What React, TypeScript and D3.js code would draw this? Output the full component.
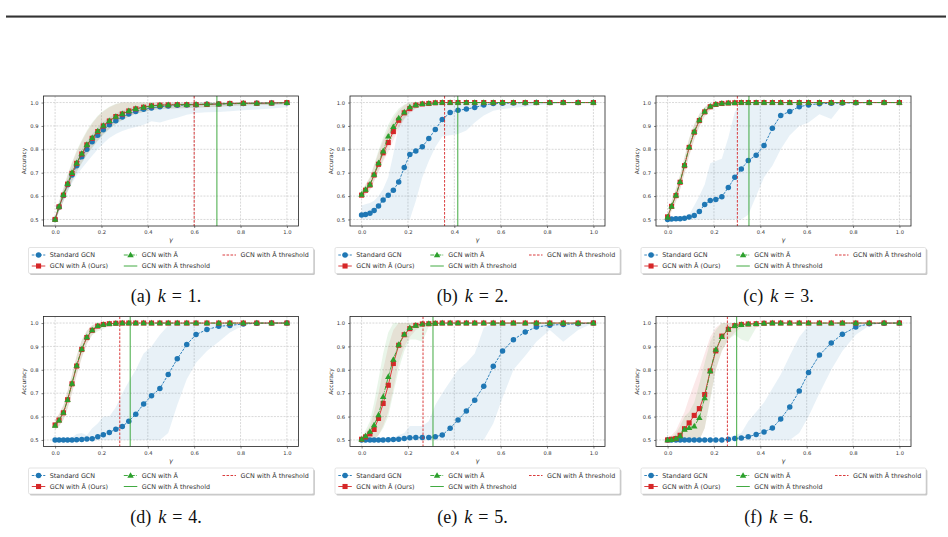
import React, { useEffect, useRef } from "react";
import * as d3 from "d3";

// gamma grid shared by every run
const gammas = [
  0, 0.017, 0.036, 0.054, 0.073, 0.093, 0.115, 0.137, 0.16, 0.184,
  0.208, 0.234, 0.262, 0.29, 0.318, 0.348, 0.382, 0.416, 0.452, 0.488,
  0.527, 0.568, 0.608, 0.655, 0.706, 0.754, 0.812, 0.87, 0.934, 1.0,
];
const xTicks = [0, 0.2, 0.4, 0.6, 0.8, 1.0];
const yTicks = [0.5, 0.6, 0.7, 0.8, 0.9, 1.0];
const tags = ["a", "b", "c", "d", "e", "f"];
const kValues = [1, 2, 3, 4, 5, 6];
const legendLabels = [
  "Standard GCN",
  "GCN with \u00C2 (Ours)",
  "GCN with \u00C3",
  "GCN with \u00C3 threshold",
  "GCN with \u00C2 threshold",
];

// k = 1
const k1Gcn = [
  0.5, 0.553, 0.602, 0.648, 0.69, 0.73, 0.768, 0.8, 0.832, 0.86,
  0.884, 0.905, 0.922, 0.938, 0.951, 0.962, 0.971, 0.977, 0.982, 0.985,
  0.988, 0.99, 0.991, 0.993, 0.994, 0.995, 0.996, 0.997, 0.998, 0.999,
];
const k1GcnLo = [
  0.49, 0.535, 0.578, 0.618, 0.655, 0.688, 0.718, 0.745, 0.772, 0.8,
  0.825, 0.848, 0.865, 0.878, 0.888, 0.895, 0.905, 0.92, 0.915, 0.925,
  0.935, 0.948, 0.955, 0.958, 0.96, 0.963, 0.967, 0.97, 0.975, 0.98,
];
const k1GcnHi = [
  0.51, 0.57, 0.625, 0.675, 0.72, 0.762, 0.8, 0.835, 0.866, 0.893,
  0.917, 0.937, 0.953, 0.966, 0.976, 0.983, 0.988, 0.992, 0.995, 0.997,
  0.998, 0.999, 1.0, 1.0, 1.0, 1.0, 1.0, 1.0, 1.0, 1.0,
];
const k1Ours = [
  0.5, 0.554, 0.604, 0.651, 0.697, 0.74, 0.78, 0.819, 0.847, 0.876,
  0.9, 0.921, 0.94, 0.951, 0.964, 0.973, 0.98, 0.986, 0.989, 0.99,
  0.991, 0.991, 0.991, 0.992, 0.994, 0.996, 0.997, 0.997, 0.998, 1.0,
];
const k1OursLo = [
  0.49, 0.535, 0.58, 0.622, 0.665, 0.705, 0.742, 0.778, 0.808, 0.838,
  0.865, 0.888, 0.91, 0.925, 0.94, 0.952, 0.96, 0.968, 0.972, 0.975,
  0.976, 0.977, 0.978, 0.98, 0.982, 0.985, 0.988, 0.99, 0.99, 0.993,
];
const k1OursHi = [
  0.51, 0.575, 0.632, 0.688, 0.74, 0.79, 0.835, 0.875, 0.91, 0.94,
  0.962, 0.98, 0.993, 1.0, 1.0, 1.0, 1.0, 1.0, 1.0, 1.0,
  1.0, 1.0, 1.0, 1.0, 1.0, 1.0, 1.0, 1.0, 1.0, 1.0,
];
const k1Tilde = [
  0.5, 0.555, 0.606, 0.653, 0.7, 0.742, 0.782, 0.82, 0.849, 0.878,
  0.902, 0.922, 0.94, 0.952, 0.965, 0.974, 0.98, 0.986, 0.989, 0.99,
  0.991, 0.991, 0.992, 0.993, 0.994, 0.996, 0.997, 0.997, 0.998, 0.999,
];
const k1TildeLo = [
  0.49, 0.533, 0.577, 0.62, 0.662, 0.702, 0.74, 0.776, 0.806, 0.836,
  0.862, 0.886, 0.908, 0.924, 0.94, 0.951, 0.96, 0.967, 0.971, 0.974,
  0.975, 0.976, 0.978, 0.98, 0.982, 0.985, 0.987, 0.989, 0.99, 0.992,
];
const k1TildeHi = [
  0.51, 0.578, 0.636, 0.692, 0.745, 0.795, 0.84, 0.88, 0.915, 0.944,
  0.965, 0.982, 0.995, 1.0, 1.0, 1.0, 1.0, 1.0, 1.0, 1.0,
  1.0, 1.0, 1.0, 1.0, 1.0, 1.0, 1.0, 1.0, 1.0, 1.0,
];
const k1HatCut = 0.6;
const k1TildeCut = 0.698;

// k = 2
const k2Gcn = [
  0.519, 0.521, 0.527, 0.538, 0.558, 0.583, 0.603, 0.625, 0.66, 0.722,
  0.778, 0.793, 0.811, 0.846, 0.885, 0.927, 0.957, 0.967, 0.972, 0.979,
  0.989, 0.996, 0.997, 0.998, 0.999, 1.0, 1.0, 1.0, 1.0, 1.0,
];
const k2GcnLo = [
  0.5, 0.5, 0.5, 0.5, 0.5, 0.5, 0.5, 0.5, 0.5, 0.5,
  0.5, 0.58, 0.68, 0.75, 0.81, 0.855, 0.86, 0.865, 0.88, 0.915,
  0.945, 0.965, 0.972, 0.978, 0.982, 0.988, 0.993, 0.997, 1.0, 1.0,
];
const k2GcnHi = [
  0.56, 0.565, 0.57, 0.58, 0.6, 0.63, 0.68, 0.78, 0.9, 0.96,
  0.99, 1.0, 1.0, 1.0, 1.0, 1.0, 1.0, 1.0, 1.0, 1.0,
  1.0, 1.0, 1.0, 1.0, 1.0, 1.0, 1.0, 1.0, 1.0, 1.0,
];
const k2Ours = [
  0.604, 0.625, 0.647, 0.69, 0.736, 0.785, 0.829, 0.876, 0.924, 0.956,
  0.974, 0.989, 0.994, 0.996, 0.999, 1.0, 1.0, 1.0, 1.0, 1.0,
  1.0, 1.0, 1.0, 1.0, 1.0, 1.0, 1.0, 1.0, 1.0, 1.0,
];
const k2OursLo = [
  0.59, 0.607, 0.625, 0.662, 0.702, 0.748, 0.79, 0.838, 0.888, 0.928,
  0.955, 0.975, 0.985, 0.99, 0.995, 0.998, 0.999, 1.0, 1.0, 1.0,
  1.0, 1.0, 1.0, 1.0, 1.0, 1.0, 1.0, 1.0, 1.0, 1.0,
];
const k2OursHi = [
  0.62, 0.648, 0.678, 0.73, 0.785, 0.838, 0.885, 0.93, 0.965, 0.988,
  1.0, 1.0, 1.0, 1.0, 1.0, 1.0, 1.0, 1.0, 1.0, 1.0,
  1.0, 1.0, 1.0, 1.0, 1.0, 1.0, 1.0, 1.0, 1.0, 1.0,
];
const k2Tilde = [
  0.607, 0.628, 0.65, 0.692, 0.742, 0.792, 0.856, 0.896, 0.934, 0.959,
  0.981, 0.99, 0.995, 0.997, 0.999, 1.0, 1.0, 1.0, 1.0, 1.0,
  1.0, 1.0, 1.0, 1.0, 1.0, 1.0, 1.0, 1.0, 1.0, 1.0,
];
const k2TildeLo = [
  0.592, 0.608, 0.626, 0.665, 0.708, 0.755, 0.815, 0.858, 0.898, 0.932,
  0.962, 0.975, 0.985, 0.99, 0.995, 0.998, 0.999, 1.0, 1.0, 1.0,
  1.0, 1.0, 1.0, 1.0, 1.0, 1.0, 1.0, 1.0, 1.0, 1.0,
];
const k2TildeHi = [
  0.622, 0.65, 0.682, 0.735, 0.795, 0.85, 0.905, 0.945, 0.975, 0.992,
  1.0, 1.0, 1.0, 1.0, 1.0, 1.0, 1.0, 1.0, 1.0, 1.0,
  1.0, 1.0, 1.0, 1.0, 1.0, 1.0, 1.0, 1.0, 1.0, 1.0,
];
const k2HatCut = 0.358;
const k2TildeCut = 0.415;

// k = 3
const k3Gcn = [
  0.5, 0.502, 0.503, 0.503, 0.505, 0.51, 0.517, 0.534, 0.564, 0.581,
  0.585, 0.597, 0.637, 0.68, 0.716, 0.752, 0.775, 0.816, 0.89, 0.945,
  0.962, 0.982, 0.99, 0.995, 0.997, 0.998, 0.999, 1.0, 1.0, 1.0,
];
const k3GcnLo = [
  0.5, 0.5, 0.5, 0.5, 0.5, 0.5, 0.5, 0.5, 0.5, 0.5,
  0.5, 0.5, 0.5, 0.5, 0.5, 0.52, 0.6, 0.68, 0.73, 0.8,
  0.86, 0.9, 0.915, 0.95, 0.93, 0.99, 1.0, 1.0, 1.0, 1.0,
];
const k3GcnHi = [
  0.502, 0.504, 0.505, 0.506, 0.51, 0.52, 0.56, 0.6, 0.65, 0.74,
  0.75, 0.76, 0.85, 0.96, 1.0, 1.0, 1.0, 1.0, 1.0, 1.0,
  1.0, 1.0, 1.0, 1.0, 1.0, 1.0, 1.0, 1.0, 1.0, 1.0,
];
const k3Ours = [
  0.511, 0.556, 0.602, 0.659, 0.73, 0.808, 0.873, 0.923, 0.96, 0.982,
  0.992, 0.996, 0.998, 0.999, 1.0, 1.0, 1.0, 1.0, 1.0, 1.0,
  1.0, 1.0, 1.0, 1.0, 1.0, 1.0, 1.0, 1.0, 1.0, 1.0,
];
const k3OursLo = [
  0.5, 0.535, 0.575, 0.628, 0.695, 0.77, 0.84, 0.895, 0.94, 0.968,
  0.982, 0.99, 0.994, 0.997, 0.999, 1.0, 1.0, 1.0, 1.0, 1.0,
  1.0, 1.0, 1.0, 1.0, 1.0, 1.0, 1.0, 1.0, 1.0, 1.0,
];
const k3OursHi = [
  0.525, 0.578, 0.63, 0.69, 0.765, 0.845, 0.905, 0.95, 0.98, 0.995,
  1.0, 1.0, 1.0, 1.0, 1.0, 1.0, 1.0, 1.0, 1.0, 1.0,
  1.0, 1.0, 1.0, 1.0, 1.0, 1.0, 1.0, 1.0, 1.0, 1.0,
];
const k3Tilde = [
  0.51, 0.557, 0.604, 0.661, 0.733, 0.81, 0.876, 0.925, 0.962, 0.984,
  0.993, 0.997, 0.998, 0.999, 1.0, 1.0, 1.0, 1.0, 1.0, 1.0,
  1.0, 1.0, 1.0, 1.0, 1.0, 1.0, 1.0, 1.0, 1.0, 1.0,
];
const k3TildeLo = [
  0.5, 0.537, 0.578, 0.63, 0.698, 0.773, 0.843, 0.898, 0.942, 0.97,
  0.984, 0.991, 0.995, 0.997, 0.999, 1.0, 1.0, 1.0, 1.0, 1.0,
  1.0, 1.0, 1.0, 1.0, 1.0, 1.0, 1.0, 1.0, 1.0, 1.0,
];
const k3TildeHi = [
  0.524, 0.58, 0.632, 0.693, 0.768, 0.848, 0.908, 0.952, 0.982, 0.996,
  1.0, 1.0, 1.0, 1.0, 1.0, 1.0, 1.0, 1.0, 1.0, 1.0,
  1.0, 1.0, 1.0, 1.0, 1.0, 1.0, 1.0, 1.0, 1.0, 1.0,
];
const k3HatCut = 0.301;
const k3TildeCut = 0.351;

// k = 4
const k4Gcn = [
  0.5, 0.5, 0.5, 0.5, 0.5, 0.501, 0.502, 0.504, 0.505, 0.514,
  0.522, 0.532, 0.546, 0.558, 0.58, 0.61, 0.654, 0.689, 0.72, 0.78,
  0.847, 0.908, 0.951, 0.972, 0.986, 0.99, 0.996, 0.999, 1.0, 1.0,
];
const k4GcnLo = [
  0.5, 0.5, 0.5, 0.5, 0.5, 0.5, 0.5, 0.5, 0.5, 0.5,
  0.5, 0.5, 0.5, 0.5, 0.5, 0.5, 0.5, 0.5, 0.5, 0.53,
  0.65, 0.76, 0.83, 0.88, 0.92, 0.96, 0.99, 1.0, 1.0, 1.0,
];
const k4GcnHi = [
  0.5, 0.5, 0.502, 0.505, 0.51, 0.525, 0.53, 0.52, 0.55, 0.57,
  0.6, 0.6, 0.64, 0.7, 0.75, 0.8, 0.87, 0.9, 0.95, 0.99,
  1.0, 1.0, 1.0, 1.0, 1.0, 1.0, 1.0, 1.0, 1.0, 1.0,
];
const k4Ours = [
  0.564, 0.585, 0.616, 0.672, 0.74, 0.816, 0.887, 0.938, 0.969, 0.987,
  0.994, 0.997, 0.999, 1.0, 1.0, 1.0, 1.0, 1.0, 1.0, 1.0,
  1.0, 1.0, 1.0, 1.0, 1.0, 1.0, 1.0, 1.0, 1.0, 1.0,
];
const k4OursLo = [
  0.545, 0.56, 0.585, 0.635, 0.7, 0.775, 0.85, 0.91, 0.95, 0.975,
  0.987, 0.993, 0.997, 0.999, 1.0, 1.0, 1.0, 1.0, 1.0, 1.0,
  1.0, 1.0, 1.0, 1.0, 1.0, 1.0, 1.0, 1.0, 1.0, 1.0,
];
const k4OursHi = [
  0.585, 0.612, 0.648, 0.71, 0.78, 0.858, 0.925, 0.966, 0.99, 1.0,
  1.0, 1.0, 1.0, 1.0, 1.0, 1.0, 1.0, 1.0, 1.0, 1.0,
  1.0, 1.0, 1.0, 1.0, 1.0, 1.0, 1.0, 1.0, 1.0, 1.0,
];
const k4Tilde = [
  0.562, 0.584, 0.617, 0.672, 0.742, 0.818, 0.889, 0.94, 0.97, 0.988,
  0.994, 0.997, 0.999, 1.0, 1.0, 1.0, 1.0, 1.0, 1.0, 1.0,
  1.0, 1.0, 1.0, 1.0, 1.0, 1.0, 1.0, 1.0, 1.0, 1.0,
];
const k4TildeLo = [
  0.543, 0.558, 0.586, 0.636, 0.702, 0.778, 0.852, 0.912, 0.948, 0.965,
  0.975, 0.99, 0.997, 0.999, 1.0, 1.0, 1.0, 1.0, 1.0, 1.0,
  1.0, 1.0, 1.0, 1.0, 1.0, 1.0, 1.0, 1.0, 1.0, 1.0,
];
const k4TildeHi = [
  0.583, 0.61, 0.648, 0.708, 0.782, 0.86, 0.927, 0.968, 0.992, 1.0,
  1.0, 1.0, 1.0, 1.0, 1.0, 1.0, 1.0, 1.0, 1.0, 1.0,
  1.0, 1.0, 1.0, 1.0, 1.0, 1.0, 1.0, 1.0, 1.0, 1.0,
];
const k4HatCut = 0.279;
const k4TildeCut = 0.324;

// k = 5
const k5Gcn = [
  0.5, 0.5, 0.5, 0.5, 0.5, 0.5, 0.501, 0.502, 0.503, 0.506,
  0.509, 0.51, 0.51, 0.51, 0.514, 0.521, 0.55, 0.585, 0.624, 0.67,
  0.73, 0.815, 0.88, 0.929, 0.962, 0.983, 0.991, 0.994, 0.997, 1.0,
];
const k5GcnLo = [
  0.5, 0.5, 0.5, 0.5, 0.5, 0.5, 0.5, 0.5, 0.5, 0.5,
  0.5, 0.5, 0.5, 0.5, 0.5, 0.5, 0.5, 0.5, 0.5, 0.5,
  0.5, 0.57, 0.68, 0.8, 0.86, 0.92, 0.97, 0.92, 0.97, 1.0,
];
const k5GcnHi = [
  0.5, 0.5, 0.5, 0.5, 0.5, 0.5, 0.505, 0.51, 0.52, 0.53,
  0.56, 0.56, 0.56, 0.58, 0.65, 0.7, 0.75, 0.8, 0.83, 0.87,
  0.98, 1.0, 1.0, 1.0, 1.0, 1.0, 1.0, 1.0, 1.0, 1.0,
];
const k5Ours = [
  0.503, 0.513, 0.526, 0.545, 0.592, 0.656, 0.734, 0.827, 0.905, 0.95,
  0.976, 0.99, 0.996, 0.997, 0.999, 1.0, 1.0, 1.0, 1.0, 1.0,
  1.0, 1.0, 1.0, 1.0, 1.0, 1.0, 1.0, 1.0, 1.0, 1.0,
];
const k5OursLo = [
  0.5, 0.5, 0.5, 0.5, 0.52, 0.56, 0.62, 0.72, 0.83, 0.9,
  0.94, 0.97, 0.985, 0.99, 0.995, 1.0, 1.0, 1.0, 1.0, 1.0,
  1.0, 1.0, 1.0, 1.0, 1.0, 1.0, 1.0, 1.0, 1.0, 1.0,
];
const k5OursHi = [
  0.51, 0.53, 0.56, 0.62, 0.7, 0.8, 0.9, 0.97, 1.0, 1.0,
  1.0, 1.0, 1.0, 1.0, 1.0, 1.0, 1.0, 1.0, 1.0, 1.0,
  1.0, 1.0, 1.0, 1.0, 1.0, 1.0, 1.0, 1.0, 1.0, 1.0,
];
const k5Tilde = [
  0.503, 0.517, 0.536, 0.564, 0.607, 0.685, 0.77, 0.844, 0.908, 0.952,
  0.98, 0.99, 0.996, 0.998, 0.999, 1.0, 1.0, 1.0, 1.0, 1.0,
  1.0, 1.0, 1.0, 1.0, 1.0, 1.0, 1.0, 1.0, 1.0, 1.0,
];
const k5TildeLo = [
  0.5, 0.5, 0.5, 0.5, 0.52, 0.55, 0.6, 0.7, 0.8, 0.88,
  0.93, 0.93, 0.92, 0.985, 0.995, 1.0, 1.0, 1.0, 1.0, 1.0,
  1.0, 1.0, 1.0, 1.0, 1.0, 1.0, 1.0, 1.0, 1.0, 1.0,
];
const k5TildeHi = [
  0.51, 0.54, 0.58, 0.66, 0.76, 0.87, 0.96, 1.0, 1.0, 1.0,
  1.0, 1.0, 1.0, 1.0, 1.0, 1.0, 1.0, 1.0, 1.0, 1.0,
  1.0, 1.0, 1.0, 1.0, 1.0, 1.0, 1.0, 1.0, 1.0, 1.0,
];
const k5HatCut = 0.265;
const k5TildeCut = 0.308;

// k = 6
const k6Gcn = [
  0.5, 0.5, 0.5, 0.5, 0.5, 0.5, 0.5, 0.5, 0.5, 0.5,
  0.5, 0.5, 0.503, 0.506, 0.508, 0.514, 0.523, 0.534, 0.551, 0.59,
  0.641, 0.709, 0.788, 0.863, 0.915, 0.952, 0.983, 0.997, 0.999, 1.0,
];
const k6GcnLo = [
  0.5, 0.5, 0.5, 0.5, 0.5, 0.5, 0.5, 0.5, 0.5, 0.5,
  0.5, 0.5, 0.5, 0.5, 0.5, 0.5, 0.5, 0.5, 0.5, 0.5,
  0.5, 0.53, 0.6, 0.7, 0.8, 0.88, 0.95, 0.99, 1.0, 1.0,
];
const k6GcnHi = [
  0.5, 0.5, 0.5, 0.5, 0.5, 0.5, 0.5, 0.5, 0.5, 0.5,
  0.5, 0.5, 0.51, 0.52, 0.53, 0.58, 0.62, 0.66, 0.72, 0.78,
  0.86, 0.94, 0.99, 1.0, 1.0, 1.0, 1.0, 1.0, 1.0, 1.0,
];
const k6Ours = [
  0.5, 0.503, 0.506, 0.52, 0.548, 0.573, 0.605, 0.634, 0.694, 0.795,
  0.881, 0.944, 0.973, 0.989, 0.994, 0.996, 0.997, 0.999, 1.0, 1.0,
  1.0, 1.0, 1.0, 1.0, 1.0, 1.0, 1.0, 1.0, 1.0, 1.0,
];
const k6OursLo = [
  0.5, 0.5, 0.5, 0.5, 0.5, 0.5, 0.5, 0.5, 0.55, 0.68,
  0.8, 0.88, 0.93, 0.96, 0.98, 0.99, 0.995, 0.998, 1.0, 1.0,
  1.0, 1.0, 1.0, 1.0, 1.0, 1.0, 1.0, 1.0, 1.0, 1.0,
];
const k6OursHi = [
  0.505, 0.52, 0.54, 0.58, 0.62, 0.68, 0.74, 0.8, 0.87, 0.94,
  0.98, 1.0, 1.0, 1.0, 1.0, 1.0, 1.0, 1.0, 1.0, 1.0,
  1.0, 1.0, 1.0, 1.0, 1.0, 1.0, 1.0, 1.0, 1.0, 1.0,
];
const k6Tilde = [
  0.5, 0.501, 0.506, 0.517, 0.545, 0.552, 0.559, 0.595, 0.68, 0.795,
  0.887, 0.941, 0.973, 0.989, 0.993, 0.996, 0.997, 0.999, 1.0, 1.0,
  1.0, 1.0, 1.0, 1.0, 1.0, 1.0, 1.0, 1.0, 1.0, 1.0,
];
const k6TildeLo = [
  0.5, 0.5, 0.5, 0.5, 0.5, 0.5, 0.5, 0.5, 0.55, 0.67,
  0.8, 0.88, 0.93, 0.95, 0.93, 0.92, 0.98, 0.995, 1.0, 1.0,
  1.0, 1.0, 1.0, 1.0, 1.0, 1.0, 1.0, 1.0, 1.0, 1.0,
];
const k6TildeHi = [
  0.5, 0.51, 0.53, 0.56, 0.6, 0.62, 0.66, 0.74, 0.83, 0.92,
  0.97, 1.0, 1.0, 1.0, 1.0, 1.0, 1.0, 1.0, 1.0, 1.0,
  1.0, 1.0, 1.0, 1.0, 1.0, 1.0, 1.0, 1.0, 1.0, 1.0,
];
const k6HatCut = 0.258;
const k6TildeCut = 0.298;

const runs = [
  { gcn: [k1Gcn, k1GcnLo, k1GcnHi], ours: [k1Ours, k1OursLo, k1OursHi], tilde: [k1Tilde, k1TildeLo, k1TildeHi], hatCut: k1HatCut, tildeCut: k1TildeCut },
  { gcn: [k2Gcn, k2GcnLo, k2GcnHi], ours: [k2Ours, k2OursLo, k2OursHi], tilde: [k2Tilde, k2TildeLo, k2TildeHi], hatCut: k2HatCut, tildeCut: k2TildeCut },
  { gcn: [k3Gcn, k3GcnLo, k3GcnHi], ours: [k3Ours, k3OursLo, k3OursHi], tilde: [k3Tilde, k3TildeLo, k3TildeHi], hatCut: k3HatCut, tildeCut: k3TildeCut },
  { gcn: [k4Gcn, k4GcnLo, k4GcnHi], ours: [k4Ours, k4OursLo, k4OursHi], tilde: [k4Tilde, k4TildeLo, k4TildeHi], hatCut: k4HatCut, tildeCut: k4TildeCut },
  { gcn: [k5Gcn, k5GcnLo, k5GcnHi], ours: [k5Ours, k5OursLo, k5OursHi], tilde: [k5Tilde, k5TildeLo, k5TildeHi], hatCut: k5HatCut, tildeCut: k5TildeCut },
  { gcn: [k6Gcn, k6GcnLo, k6GcnHi], ours: [k6Ours, k6OursLo, k6OursHi], tilde: [k6Tilde, k6TildeLo, k6TildeHi], hatCut: k6HatCut, tildeCut: k6TildeCut },
];

const BLUE = "#1f77b4";
const RED = "#d62728";
const GREEN = "#2ca02c";
const FONT = "DejaVu Sans, sans-serif";

// subplot frame sizes
const PW = 255;
const PH = 130;
const colLeft = [43.5, 350, 656];
const rowTop = [96, 316.5];

const blueDash = "2.6,1.2";
const greenDash = "4,1.1,0.8,1.1";
const redDash = "2.6,1.4";

function drawPanel(root: any, run: any, left: number, top: number, tag: string, k: number) {
  var x = d3.scaleLinear().domain([-0.05, 1.05]).range([0, PW]);
  var y = d3.scaleLinear().domain([0.472, 1.028]).range([PH, 0]);

  var g = root.append("g").attr("transform", `translate(${left},${top})`);
  var clipId = "clip-" + tag;
  g.append("clipPath").attr("id", clipId).append("rect").attr("width", PW).attr("height", PH);
  var plot = g.append("g").attr("clip-path", `url(#${clipId})`);

  // grid
  plot.selectAll(".gx").data(xTicks).join("line").attr("class", "gx")
    .attr("x1", (d: number) => x(d)).attr("x2", (d: number) => x(d))
    .attr("y1", 0).attr("y2", PH)
    .attr("stroke", "#c4c4c4").attr("stroke-width", 0.65).attr("stroke-dasharray", "2,1.2");
  plot.selectAll(".gy").data(yTicks).join("line").attr("class", "gy")
    .attr("x1", 0).attr("x2", PW)
    .attr("y1", (d: number) => y(d)).attr("y2", (d: number) => y(d))
    .attr("stroke", "#c4c4c4").attr("stroke-width", 0.65).attr("stroke-dasharray", "2,1.2");

  // spread bands
  var band = (lo: number[], hi: number[]) =>
    d3.area<number>()
      .x((_, i) => x(gammas[i]))
      .y0((_, i) => y(lo[i]))
      .y1((_, i) => y(hi[i]))(gammas);
  plot.append("path").attr("d", band(run.gcn[1], run.gcn[2])).attr("fill", BLUE).attr("fill-opacity", 0.1);
  plot.append("path").attr("d", band(run.ours[1], run.ours[2])).attr("fill", RED).attr("fill-opacity", 0.1);
  plot.append("path").attr("d", band(run.tilde[1], run.tilde[2])).attr("fill", GREEN).attr("fill-opacity", 0.1);

  var line = d3.line<number>().x((_, i) => x(gammas[i])).y((d) => y(d));

  // Standard GCN
  plot.append("path").attr("d", line(run.gcn[0])).attr("fill", "none")
    .attr("stroke", BLUE).attr("stroke-width", 0.9).attr("stroke-dasharray", blueDash);
  plot.selectAll(".mb").data(run.gcn[0]).join("circle").attr("class", "mb")
    .attr("cx", (_: number, i: number) => x(gammas[i])).attr("cy", (d: number) => y(d))
    .attr("r", 2.75).attr("fill", BLUE);

  // GCN with A-hat
  plot.append("path").attr("d", line(run.ours[0])).attr("fill", "none")
    .attr("stroke", RED).attr("stroke-width", 0.9);
  plot.selectAll(".mr").data(run.ours[0]).join("rect").attr("class", "mr")
    .attr("x", (_: number, i: number) => x(gammas[i]) - 2.55).attr("y", (d: number) => y(d) - 2.55)
    .attr("width", 5.1).attr("height", 5.1).attr("fill", RED);

  // GCN with A-tilde
  var tri = d3.symbol().type(d3.symbolTriangle).size(18);
  plot.append("path").attr("d", line(run.tilde[0])).attr("fill", "none")
    .attr("stroke", GREEN).attr("stroke-width", 0.9).attr("stroke-dasharray", greenDash);
  plot.selectAll(".mg").data(run.tilde[0]).join("path").attr("class", "mg")
    .attr("d", tri())
    .attr("transform", (d: number, i: number) => `translate(${x(gammas[i])},${y(d) + 0.4})`)
    .attr("fill", GREEN);

  // thresholds
  plot.append("line").attr("x1", x(run.tildeCut)).attr("x2", x(run.tildeCut))
    .attr("y1", 0).attr("y2", PH).attr("stroke", GREEN).attr("stroke-width", 0.9);
  plot.append("line").attr("x1", x(run.hatCut)).attr("x2", x(run.hatCut))
    .attr("y1", 0).attr("y2", PH).attr("stroke", RED).attr("stroke-width", 0.9)
    .attr("stroke-dasharray", redDash);

  // axes
  var xAxis = g.append("g").attr("transform", `translate(0,${PH})`)
    .call(d3.axisBottom(x).tickValues(xTicks).tickFormat(d3.format(".1f")).tickSize(2).tickPadding(2.4));
  var yAxis = g.append("g")
    .call(d3.axisLeft(y).tickValues(yTicks).tickFormat(d3.format(".1f")).tickSize(2).tickPadding(3));
  [xAxis, yAxis].forEach((a: any) => {
    a.select(".domain").remove();
    a.selectAll("line").attr("stroke", "#333").attr("stroke-width", 0.6);
    a.selectAll("text").attr("font-size", 5.2).attr("font-family", FONT).attr("fill", "#333");
  });

  g.append("rect").attr("width", PW).attr("height", PH)
    .attr("fill", "none").attr("stroke", "#222").attr("stroke-width", 0.8);

  g.append("text").attr("x", PW / 2).attr("y", PH + 16)
    .attr("text-anchor", "middle").attr("font-size", 6.5).attr("font-style", "italic")
    .attr("font-family", FONT).attr("fill", "#333").text("\u03B3");
  g.append("text").attr("transform", `translate(-17.5,${PH / 2}) rotate(-90)`)
    .attr("text-anchor", "middle").attr("font-size", 5.8)
    .attr("font-family", FONT).attr("fill", "#333").text("Accuracy");

  // legend
  var L = PW / 2 - 142.5;
  var T = PH + 21.5;
  var lg = g.append("g").attr("transform", `translate(${L},${T})`);
  lg.append("rect").attr("x", 1.4).attr("y", 1.4).attr("width", 285).attr("height", 26)
    .attr("rx", 1.5).attr("fill", "#9a9a9a").attr("fill-opacity", 0.55);
  lg.append("rect").attr("width", 285).attr("height", 26).attr("rx", 1.5)
    .attr("fill", "#fff").attr("stroke", "#d0d0d0").attr("stroke-width", 0.6);

  var entries = [
    { col: 3.3, row: 7.5, color: BLUE, dash: blueDash, mark: "circle" },
    { col: 3.3, row: 18.5, color: RED, dash: null, mark: "square" },
    { col: 95.3, row: 7.5, color: GREEN, dash: greenDash, mark: "triangle" },
    { col: 95.3, row: 18.5, color: GREEN, dash: null, mark: null },
    { col: 194, row: 7.5, color: RED, dash: redDash, mark: null },
  ];
  entries.forEach((e, i) => {
    var h = lg.append("line").attr("x1", e.col).attr("x2", e.col + 13.5)
      .attr("y1", e.row).attr("y2", e.row).attr("stroke", e.color).attr("stroke-width", 0.9);
    if (e.dash) h.attr("stroke-dasharray", e.dash);
    var cx = e.col + 6.75;
    if (e.mark === "circle") {
      lg.append("circle").attr("cx", cx).attr("cy", e.row).attr("r", 2.75).attr("fill", e.color);
    } else if (e.mark === "square") {
      lg.append("rect").attr("x", cx - 2.55).attr("y", e.row - 2.55).attr("width", 5.1).attr("height", 5.1).attr("fill", e.color);
    } else if (e.mark === "triangle") {
      lg.append("path").attr("d", tri()).attr("transform", `translate(${cx},${e.row + 0.4})`).attr("fill", e.color);
    }
    lg.append("text").attr("x", e.col + 18).attr("y", e.row + 2.2)
      .attr("font-size", 6.4).attr("font-family", FONT).attr("fill", "#333")
      .text(legendLabels[i]);
  });

  // caption
  var cap = g.append("text").attr("x", PW / 2 - 5).attr("y", PH + 76)
    .attr("text-anchor", "middle").attr("font-size", 18)
    .attr("font-family", "Liberation Serif, serif").attr("fill", "#111");
  cap.append("tspan").text(`(${tag})`);
  cap.append("tspan").attr("dx", 7).attr("font-style", "italic").text("k");
  cap.append("tspan").attr("dx", 6).text("=");
  cap.append("tspan").attr("dx", 6).text(`${k}.`);
}

export default function App() {
  const ref = useRef<SVGSVGElement>(null);

  useEffect(() => {
    var svg = d3.select(ref.current);
    svg.selectAll("*").remove();

    // page rule
    svg.append("rect").attr("x", 6).attr("y", 15).attr("width", 940).attr("height", 1).attr("fill", "#9a9a9a");
    svg.append("rect").attr("x", 6).attr("y", 16).attr("width", 940).attr("height", 1.6).attr("fill", "#333");

    runs.forEach((run, i) => {
      drawPanel(svg, run, colLeft[i % 3], rowTop[Math.floor(i / 3)], tags[i], kValues[i]);
    });
  }, []);

  return (
    <svg
      ref={ref}
      width={948}
      height={537}
      style={{ position: "absolute", left: 0, top: 0, background: "#fff" }}
    />
  );
}
